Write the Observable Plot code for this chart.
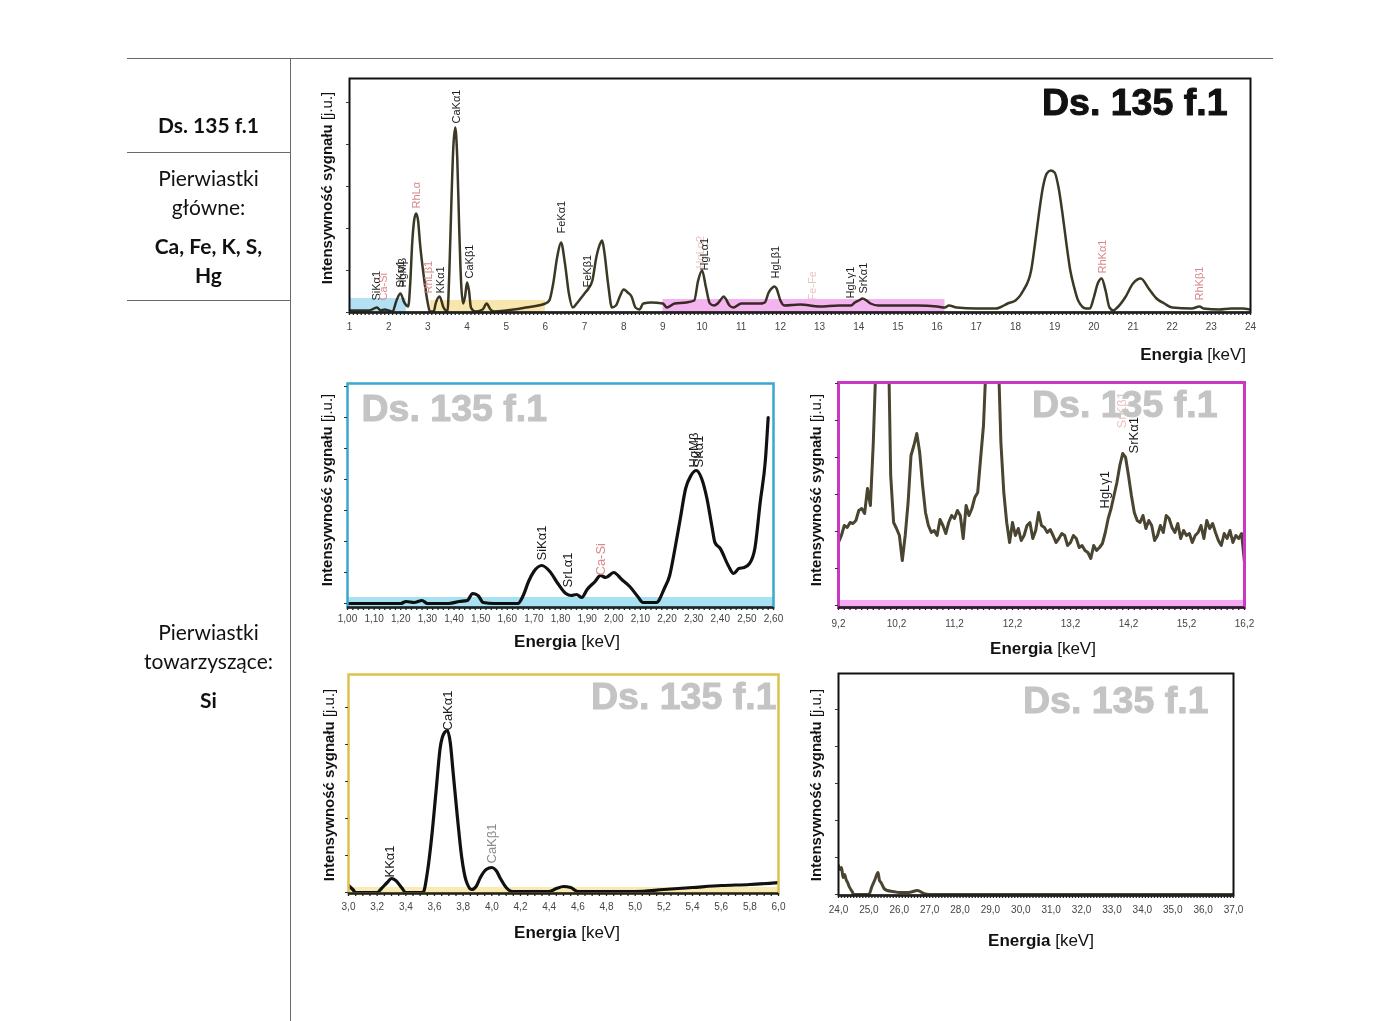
<!DOCTYPE html>
<html><head><meta charset="utf-8">
<script src="https://cdn.jsdelivr.net/npm/d3@7"></script>
<script src="https://cdn.jsdelivr.net/npm/@observablehq/plot@0.6"></script>
<style>
body{margin:0;background:#fff;}
#page{position:relative;width:1400px;height:1021px;overflow:hidden;background:#fff;font-family:"Liberation Sans",Arial,sans-serif;color:#111;}
.cell{position:absolute;left:127px;width:163px;text-align:center;font-family:Lato,"Open Sans",sans-serif;font-size:21px;line-height:24px;color:#111;white-space:nowrap;}
.b{font-weight:bold;}
.hl{position:absolute;background:#6a6a6a;height:1px;}
.vl{position:absolute;background:#6a6a6a;width:1px;}
.ttl{position:absolute;white-space:nowrap;font-family:"Liberation Sans",Arial,sans-serif;color:#111;}
</style>
</head><body><div id="page"></div>
<script>
// ---------- table text ----------
const tableMain = ["Ds. 135 f.1", "Pierwiastki", "główne:", "Ca, Fe, K, S,", "Hg"];
const tableSide = ["Pierwiastki", "towarzyszące:", "Si"];
const sampleName = "Ds. 135 f.1";
const yTitleBold = "Intensywność sygnału";
const yTitleUnit = "[j.u.]";
const xTitleBold = "Energia";
const xTitleUnit = "[keV]";

// ---------- top overview spectrum (energy keV, intensity a.u.) ----------
const topSpectrum = [[1.0,2],[1.5,2],[1.7,5],[1.8,2],[1.9,3],[2.0,2],[2.1,1],[2.2,12],[2.3,19],[2.4,10],[2.5,6],[2.55,29],[2.6,69],[2.65,92],[2.7,99],[2.75,92],[2.8,69],[2.9,35],[3.0,9],[3.05,1],[3.15,1],[3.2,9],[3.3,16],[3.4,5],[3.5,1],[3.55,42],[3.6,109],[3.65,165],[3.7,185],[3.75,155],[3.8,85],[3.85,29],[3.9,9],[3.95,16],[4.0,30],[4.05,22],[4.1,5],[4.2,1],[4.4,3],[4.5,9],[4.6,3],[4.7,1],[5.0,2],[5.5,5],[6.0,9],[6.1,12],[6.2,29],[6.3,55],[6.4,70],[6.5,49],[6.6,19],[6.7,5],[6.8,9],[6.9,14],[7.0,19],[7.1,24],[7.2,32],[7.3,55],[7.4,69],[7.45,72],[7.5,62],[7.6,29],[7.7,5],[7.8,7],[7.9,16],[8.0,23],[8.1,20],[8.2,16],[8.3,5],[8.4,3],[8.5,9],[8.7,10],[9.0,9],[9.1,5],[9.3,9],[9.6,10],[9.8,12],[9.9,32],[10.0,42],[10.1,25],[10.2,9],[10.3,7],[10.4,9],[10.5,14],[10.55,16],[10.6,14],[10.7,7],[10.8,5],[11.0,9],[11.3,9],[11.5,9],[11.6,10],[11.7,20],[11.8,25],[11.85,26],[11.9,24],[12.0,12],[12.1,7],[12.5,8],[13.0,6],[13.5,7],[13.8,7],[13.9,10],[14.0,12],[14.1,14],[14.2,12],[14.3,9],[14.5,7],[15.0,7],[15.5,7],[16.0,6],[16.2,5],[16.3,7],[16.5,5],[17.0,4],[17.5,4],[17.6,5],[17.8,9],[18.0,12],[18.2,22],[18.4,42],[18.5,69],[18.6,99],[18.7,125],[18.8,139],[18.9,142],[19.0,140],[19.1,125],[19.2,99],[19.3,69],[19.4,42],[19.5,25],[19.6,12],[19.8,4],[19.9,4],[20.0,15],[20.1,29],[20.2,34],[20.3,22],[20.4,5],[20.5,2],[20.6,5],[20.8,15],[21.0,29],[21.2,34],[21.4,24],[21.6,14],[21.8,9],[22.0,5],[22.5,4],[22.7,6],[22.8,4],[23.2,3],[23.5,4],[23.8,4],[24.0,3]];
const topLabels = [
  {x:1.69,y:12,t:"SiKα1",k:"main"},{x:1.87,y:12,t:"Ca-Si",k:"rh"},
  {x:2.31,y:25,t:"SKα1",k:"main"},{x:2.36,y:25,t:"HgMβ",k:"main"},
  {x:2.70,y:104,t:"RhLα",k:"rh"},{x:3.02,y:19,t:"RhLβ1",k:"rh"},
  {x:3.32,y:19,t:"KKα1",k:"main"},{x:3.72,y:189,t:"CaKα1",k:"main"},
  {x:4.05,y:34,t:"CaKβ1",k:"main"},{x:6.42,y:79,t:"FeKα1",k:"main"},
  {x:7.08,y:25,t:"FeKβ1",k:"main"},{x:9.95,y:44,t:"HgLα2",k:"faint"},
  {x:10.07,y:42,t:"HgLα1",k:"main"},{x:11.87,y:34,t:"HgLβ1",k:"main"},
  {x:12.81,y:12,t:"Fe-Fe",k:"faint"},{x:13.79,y:14,t:"HgLγ1",k:"main"},
  {x:14.12,y:19,t:"SrKα1",k:"main"},{x:20.22,y:39,t:"RhKα1",k:"rh"},
  {x:22.70,y:12,t:"RhKβ1",k:"rh"}
];
const topBands = [{x1:1.0,x2:2.45,h:14},{x1:3.07,x2:6.0,h:12},{x1:9.0,x2:16.2,h:13}];
const topBandColors = ["#b3e0f2","#f7e6ad","#f4b4f0"];
const topXTicks = d3.range(1, 25, 1);

// ---------- zoom 1.00–2.60 keV ----------
const siSpectrum = [[1.00,0],[1.10,0],[1.20,0],[1.22,2],[1.25,1],[1.28,3],[1.30,0],[1.38,0],[1.42,2],[1.45,3],[1.47,10],[1.49,8],[1.51,1],[1.55,0],[1.64,0],[1.66,8],[1.68,22],[1.70,32],[1.73,38],[1.76,32],[1.79,20],[1.82,10],[1.84,8],[1.86,9],[1.88,6],[1.90,14],[1.93,22],[1.95,28],[1.97,26],[2.00,31],[2.03,24],[2.06,17],[2.09,7],[2.11,1],[2.16,1],[2.19,15],[2.21,28],[2.23,55],[2.25,85],[2.27,115],[2.29,128],[2.31,133],[2.33,125],[2.35,105],[2.37,75],[2.38,61],[2.40,55],[2.43,38],[2.45,30],[2.47,35],[2.49,36],[2.51,40],[2.53,55],[2.55,101],[2.57,145],[2.58,186]];
const siLabels = [
  {x:1.73,y:43,t:"SiKα1",k:"main"},{x:1.826,y:16,t:"SrLα1",k:"main"},
  {x:1.95,y:28,t:"Ca-Si",k:"rh"},{x:2.30,y:136,t:"HgMβ",k:"main"},{x:2.32,y:136,t:"SKα1",k:"main"}
];
const siXTicks = d3.range(0, 17).map(i => 1 + i / 10);

// ---------- zoom 9.2–16.2 keV ----------
const hgSpectrum = [[9.2,63],[9.25,70],[9.3,80],[9.35,78],[9.4,83],[9.45,82],[9.5,85],[9.55,95],[9.6,97],[9.65,92],[9.7,117],[9.75,100],[9.8,163],[9.85,250],[9.9,400],[10.0,500],[10.05,300],[10.1,130],[10.15,83],[10.2,77],[10.25,70],[10.3,45],[10.35,70],[10.4,103],[10.45,150],[10.5,160],[10.55,172],[10.6,153],[10.65,120],[10.7,93],[10.75,80],[10.8,73],[10.85,75],[10.9,70],[10.95,86],[11.0,80],[11.05,72],[11.1,83],[11.15,90],[11.2,87],[11.25,95],[11.3,90],[11.35,67],[11.4,100],[11.45,90],[11.5,97],[11.55,108],[11.6,113],[11.65,147],[11.7,180],[11.75,250],[11.85,330],[11.95,260],[12.0,163],[12.05,113],[12.1,83],[12.15,63],[12.2,83],[12.25,70],[12.3,77],[12.35,65],[12.4,70],[12.45,80],[12.5,83],[12.55,67],[12.6,75],[12.65,93],[12.7,80],[12.75,78],[12.8,73],[12.85,76],[12.9,70],[12.95,63],[13.0,67],[13.05,72],[13.1,70],[13.15,60],[13.2,63],[13.25,70],[13.3,67],[13.35,58],[13.4,60],[13.45,55],[13.5,53],[13.55,47],[13.6,60],[13.65,55],[13.7,58],[13.75,62],[13.8,73],[13.85,87],[13.9,97],[13.95,110],[14.0,123],[14.05,140],[14.1,152],[14.15,148],[14.2,130],[14.25,110],[14.3,93],[14.35,85],[14.4,83],[14.45,90],[14.5,77],[14.55,85],[14.6,80],[14.65,65],[14.7,70],[14.75,80],[14.8,73],[14.85,90],[14.9,87],[14.95,78],[15.0,73],[15.05,82],[15.1,67],[15.15,75],[15.2,70],[15.25,72],[15.3,63],[15.35,70],[15.4,73],[15.45,80],[15.5,67],[15.55,85],[15.6,77],[15.65,82],[15.7,73],[15.75,65],[15.8,60],[15.85,72],[15.9,67],[15.95,75],[16.0,63],[16.05,70],[16.1,67],[16.15,72],[16.2,43]];
const hgLabels = [
  {x:13.80,y:97,t:"HgLγ1",k:"main"},{x:14.09,y:177,t:"SrKβ1",k:"faint"},{x:14.29,y:152,t:"SrKα1",k:"main"}
];
const hgXTicks = d3.range(0, 8).map(i => 9.2 + i);

// ---------- zoom 3.0–6.0 keV ----------
const caSpectrum = [[3.0,7],[3.03,3],[3.05,0],[3.2,0],[3.23,4],[3.27,10],[3.3,14],[3.33,12],[3.37,5],[3.4,0],[3.52,0],[3.55,20],[3.58,55],[3.61,100],[3.64,145],[3.67,160],[3.69,162],[3.71,150],[3.73,120],[3.76,75],[3.79,35],[3.82,12],[3.86,3],[3.89,6],[3.92,15],[3.96,23],[4.0,25],[4.03,22],[4.06,14],[4.1,5],[4.14,1],[4.4,1],[4.45,4],[4.5,6],[4.55,5],[4.6,1],[5.0,1],[5.2,3],[5.4,5],[5.6,7],[5.8,8],[6.0,10]];
const caLabels = [
  {x:3.29,y:15,t:"KKα1",k:"main"},{x:3.69,y:162,t:"CaKα1",k:"main"},{x:4.0,y:29,t:"CaKβ1",k:"gray"}
];
const caXTicks = d3.range(0, 16).map(i => 3 + i * 0.2);

// ---------- zoom 24–37 keV ----------
const hiSpectrum = [[24.0,29],[24.05,25],[24.1,27],[24.15,17],[24.2,20],[24.25,15],[24.3,12],[24.35,8],[24.45,3],[24.5,0],[25.0,0],[25.1,8],[25.2,15],[25.3,22],[25.35,14],[25.4,12],[25.5,6],[25.6,4],[25.8,3],[26.0,2],[26.3,2],[26.6,4],[26.8,1],[27.0,0],[37.0,0]];
const hiXTicks = d3.range(24, 38, 1);

// ---------- helpers ----------
const kindColor = {main:"#1a1a1a", rh:"#d98888", faint:"#e9c4c4", gray:"#8a8a8a"};
const page = document.getElementById("page");
function el(tag, cls, css, html) {
  const e = document.createElement(tag);
  if (cls) e.className = cls;
  Object.assign(e.style, css);
  if (html !== undefined) e.innerHTML = html;
  page.appendChild(e);
  return e;
}
function chart(o) {
  const y0 = o.yDomain[0];
  const marks = [
    Plot.line(o.data, {x: d => d[0], y: d => d[1], stroke: o.stroke, strokeWidth: o.sw, curve: o.curve || "monotone-x", clip: true, strokeLinejoin: "round"})
  ];
  if (o.bands) marks.push(Plot.rect(o.bands, {x1: "x1", x2: "x2", y1: y0, y2: "h", fill: (d, i) => o.bandColors[i], mixBlendMode: "multiply"}));
  marks.push(
    Plot.frame({stroke: o.frame, strokeWidth: o.frameWidth}),
    Plot.ruleY([y0], {stroke: "#222", strokeWidth: 2.4}),
    Plot.axisX({ticks: o.minor, tickSize: 3, tickFormat: () => "", stroke: "#222", strokeWidth: 1.3}),
    Plot.axisX({ticks: o.ticks, tickSize: 0, tickPadding: o.tickPad, tickFormat: o.fmt, fill: "#444", fontSize: 10}),
    Plot.axisY({ticks: o.yTicks, tickSize: 3, tickFormat: () => "", stroke: "#333"})
  );
  if (o.labels) marks.push(Plot.text(o.labels, {x: "x", y: "y", text: "t", fill: d => kindColor[d.k], rotate: -90, textAnchor: "start", fontSize: o.labelSize, fontFamily: "Liberation Sans, Arial, sans-serif"}));
  marks.push(Plot.text([sampleName], {frameAnchor: o.wmAnchor, textAnchor: o.wmText, lineAnchor: "top", dx: o.wmDx, dy: o.wmDy, fontSize: o.wmSize, fontWeight: "bold", fill: o.wmFill, stroke: o.wmFill, strokeWidth: 1, fontFamily: "Liberation Sans, Arial, sans-serif"}));
  const svg = Plot.plot({
    width: o.width, height: o.height,
    marginLeft: o.ml, marginRight: o.mr, marginTop: o.mt, marginBottom: o.mb,
    x: {domain: o.xDomain, label: null},
    y: {domain: o.yDomain, label: null},
    color: {type: "identity"},
    style: {fontFamily: "Liberation Sans, Arial, sans-serif", fontSize: "10px", background: "transparent", overflow: "visible"},
    marks
  });
  svg.style.position = "absolute";
  svg.style.left = o.left + "px";
  svg.style.top = o.top + "px";
  page.appendChild(svg);
}
function yTitle(cx, cy, size) {
  el("div", "ttl", {left: cx + "px", top: cy + "px", fontSize: size + "px", transform: "translate(-50%,-50%) rotate(-90deg)"},
    `<b>${yTitleBold}</b> ${yTitleUnit}`);
}
function xTitle(x, cy, size, right) {
  el("div", "ttl", {left: x + "px", top: cy + "px", fontSize: size + "px", transform: right ? "translate(-100%,-50%)" : "translate(-50%,-50%)"},
    `<b>${xTitleBold}</b> ${xTitleUnit}`);
}

// ---------- table ----------
el("div", "hl", {left: "127px", top: "58px", width: "1146px"});
el("div", "vl", {left: "290px", top: "58px", height: "963px"});
el("div", "hl", {left: "127px", top: "152px", width: "163px"});
el("div", "hl", {left: "127px", top: "300px", width: "163px"});
const mainTops = [113, 166, 195, 234, 263];
tableMain.forEach((t, i) => el("div", "cell" + (i === 0 || i >= 3 ? " b" : ""), {top: mainTops[i] + "px"}, t));
const sideTops = [620, 649, 688];
tableSide.forEach((t, i) => el("div", "cell" + (i === 2 ? " b" : ""), {top: sideTops[i] + "px"}, t));

// ---------- charts ----------
chart({left: 300, top: 60, width: 960, height: 300, ml: 49, mr: 10, mt: 18, mb: 48,
  xDomain: [1, 24], yDomain: [0, 234], data: topSpectrum, stroke: "#3b3826", sw: 2.5,
  bands: topBands, bandColors: topBandColors, frame: "#111", frameWidth: 2,
  minor: d3.range(10, 241).map(i => i / 10), ticks: topXTicks, tickPad: 10, fmt: d => String(d),
  yTicks: d3.range(0, 234, 42), labels: topLabels, labelSize: 11,
  wmAnchor: "top-right", wmText: "end", wmDx: -23, wmDy: 10, wmSize: 37.5, wmFill: "#111"});

chart({left: 300, top: 370, width: 490, height: 290, ml: 47, mr: 17, mt: 13, mb: 53,
  xDomain: [1.0, 2.6], yDomain: [-4, 220], data: siSpectrum, stroke: "#111", sw: 3.2,
  bands: [{x1: 1.0, x2: 2.6, h: 6}], bandColors: ["#a8e2f2"], frame: "#3aa8cc", frameWidth: 2.5,
  minor: d3.range(50, 131).map(i => i / 50), ticks: siXTicks, tickPad: 7, fmt: d => d.toFixed(2).replace(".", ","),
  yTicks: d3.range(0, 220, 31), labels: siLabels, labelSize: 13,
  wmAnchor: "top-left", wmText: "start", wmDx: 14, wmDy: 11, wmSize: 37.5, wmFill: "#c4c4c4"});

chart({left: 790, top: 370, width: 470, height: 290, ml: 48, mr: 16, mt: 12, mb: 53,
  xDomain: [9.2, 16.2], yDomain: [-2, 223], data: hgSpectrum, stroke: "#4a4530", sw: 3, curve: "linear",
  bands: [{x1: 9.2, x2: 16.2, h: 5}], bandColors: ["#f7a8f2"], frame: "#c838c4", frameWidth: 3,
  minor: d3.range(92, 163).map(i => i / 10), ticks: hgXTicks, tickPad: 12, fmt: d => d.toFixed(1).replace(".", ","),
  yTicks: d3.range(0, 223, 37), labels: hgLabels, labelSize: 13,
  wmAnchor: "top-right", wmText: "end", wmDx: -27, wmDy: 8, wmSize: 37.5, wmFill: "#c4c4c4"});

chart({left: 300, top: 662, width: 490, height: 290, ml: 48, mr: 12, mt: 12, mb: 59,
  xDomain: [3.0, 6.0], yDomain: [-1, 218], data: caSpectrum, stroke: "#111", sw: 3.2,
  bands: [{x1: 3.0, x2: 6.0, h: 5}], bandColors: ["#f8eab0"], frame: "#dcc24c", frameWidth: 2.5,
  minor: d3.range(60, 121).map(i => i / 20), ticks: caXTicks, tickPad: 9, fmt: d => d.toFixed(1).replace(".", ","),
  yTicks: d3.range(0, 218, 37), labels: caLabels, labelSize: 13,
  wmAnchor: "top-right", wmText: "end", wmDx: -2, wmDy: 8, wmSize: 37.5, wmFill: "#c4c4c4"});

chart({left: 790, top: 662, width: 470, height: 290, ml: 48, mr: 27, mt: 11, mb: 57,
  xDomain: [24, 37], yDomain: [-1, 221], data: hiSpectrum, stroke: "#4a4530", sw: 3,
  frame: "#111", frameWidth: 2,
  minor: d3.range(240, 371).map(i => i / 10), ticks: hiXTicks, tickPad: 10, fmt: d => d.toFixed(1).replace(".", ","),
  yTicks: d3.range(0, 221, 37),
  wmAnchor: "top-right", wmText: "end", wmDx: -25, wmDy: 13, wmSize: 37.5, wmFill: "#c4c4c4"});

// ---------- axis titles ----------
yTitle(326, 188, 15); xTitle(1246, 355, 17, true);
yTitle(326, 490, 15); xTitle(567, 642, 17);
yTitle(815, 490, 15); xTitle(1043, 649, 17);
yTitle(328, 785, 15); xTitle(567, 933, 17);
yTitle(815, 785, 15); xTitle(1041, 941, 17);
</script>
</body></html>
